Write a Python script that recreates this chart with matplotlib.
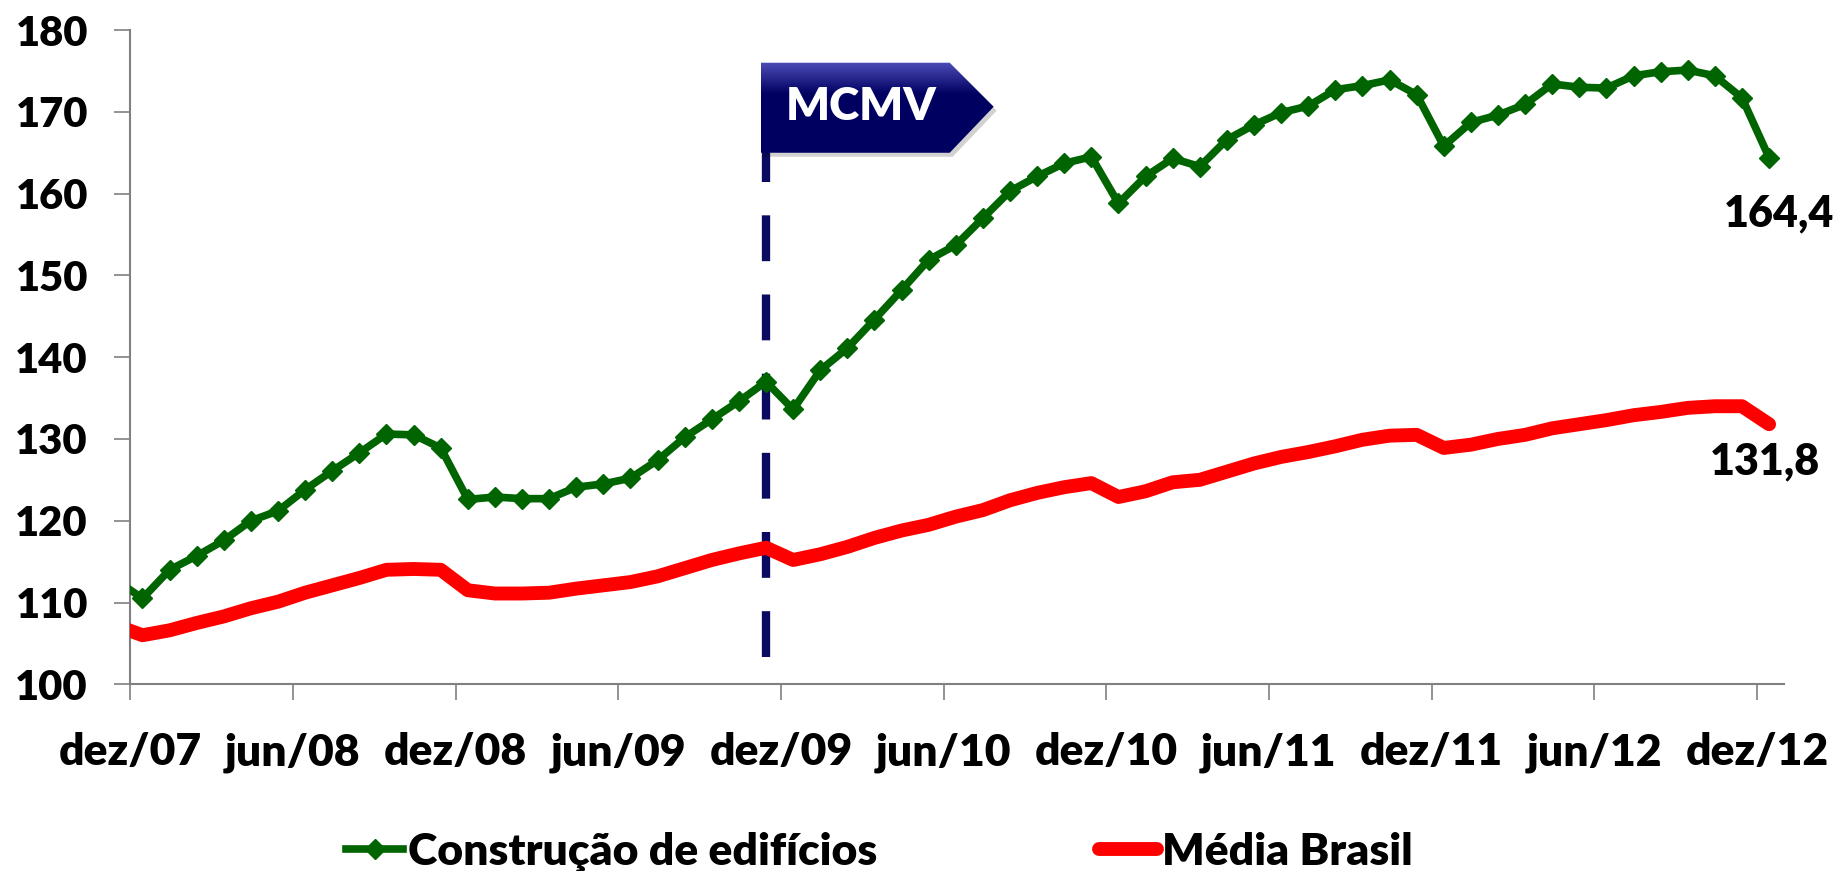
import numpy as np
import matplotlib
matplotlib.use('Agg')
import matplotlib.pyplot as plt
from matplotlib.patches import Polygon
from matplotlib.lines import Line2D
import matplotlib.transforms as mtransforms

plt.rcParams['font.family'] = ['Lato', 'DejaVu Sans']
plt.rcParams['font.weight'] = 'heavy'
FW = 'heavy'

# ---------------- data ----------------
# month index: -1 = nov/07 (clipped by the axis), 0 = dez/07 ... 60 = dez/12
months = np.arange(-1, 61)
construcao = [112.8, 110.5, 114.0, 115.7, 117.6, 120.0, 121.2, 123.8, 126.1, 128.3, 130.6, 130.5, 128.9,
              122.6, 122.9, 122.7, 122.7, 124.1, 124.5, 125.2, 127.4, 130.2, 132.4, 134.6, 137.0,
              133.6, 138.4, 141.1, 144.6, 148.2, 151.9, 153.7, 157.0, 160.3, 162.1, 163.7, 164.5,
              158.8, 162.1, 164.3, 163.3, 166.6, 168.4, 169.9, 170.7, 172.7, 173.2, 173.9, 172.1,
              165.8, 168.7, 169.6, 170.9, 173.4, 173.0, 172.9, 174.4, 174.9, 175.1, 174.4, 171.7, 164.4]
media_brasil = [107.2, 106.0, 106.6, 107.5, 108.3, 109.3, 110.1, 111.2, 112.1, 113.0, 114.0, 114.1, 114.0,
                111.5, 111.1, 111.1, 111.2, 111.7, 112.1, 112.5, 113.2, 114.2, 115.2, 116.0, 116.7,
                115.2, 115.9, 116.8, 117.9, 118.8, 119.5, 120.5, 121.3, 122.5, 123.4, 124.1, 124.6,
                122.9, 123.6, 124.7, 125.0, 126.0, 127.0, 127.8, 128.4, 129.1, 129.9, 130.4, 130.5,
                128.9, 129.3, 130.0, 130.5, 131.3, 131.8, 132.3, 132.9, 133.3, 133.8, 134.0, 134.0, 131.8]
tick_months = [0, 6, 12, 18, 24, 30, 36, 42, 48, 54, 60]
tick_labels = ['dez/07', 'jun/08', 'dez/08', 'jun/09', 'dez/09', 'jun/10',
               'dez/10', 'jun/11', 'dez/11', 'jun/12', 'dez/12']
y_ticks = [100, 110, 120, 130, 140, 150, 160, 170, 180]
mcmv_month = 23  # nov/09
label_green = '164,4'
label_red = '131,8'
series_names = ['Construção de edifícios', 'Média Brasil']

# ---------------- figure ----------------
W, H = 1843, 871
fig = plt.figure(figsize=(W / 100, H / 100), dpi=100)
ax = fig.add_axes([130.3 / W, 1 - 684.3 / H, (1784 - 130.3) / W, (684.3 - 30) / H])

x = months + 0.45
green = '#006400'
red = '#ff0000'
navy = '#0a0a60'

ax.plot(x, media_brasil, color=red, lw=10, solid_capstyle='round', solid_joinstyle='round', zorder=3)
ax.plot(x, construcao, color=green, lw=5.5, marker='D', ms=10, mec=green, mfc=green,
        solid_joinstyle='round', zorder=4)

xm = mcmv_month + 0.45
ax.plot([xm, xm], [103.3, 168], color=navy, lw=6, dashes=(5.5, 4), zorder=2)

ax.set_xlim(0, 61)
ax.set_ylim(100, 180)
ax.set_xticks(tick_months)
ax.set_xticklabels(tick_labels)
ax.set_yticks(y_ticks)
for s in ['top', 'right']:
    ax.spines[s].set_visible(False)
for s in ['left', 'bottom']:
    ax.spines[s].set_color('#808080')
    ax.spines[s].set_linewidth(1.5)
ax.tick_params(axis='both', direction='out', length=11.5, width=1.2, color='#808080')
ax.tick_params(axis='y', labelsize=30, pad=19)
ax.tick_params(axis='x', labelsize=32, pad=23)
for t in ax.get_xticklabels() + ax.get_yticklabels():
    t.set_fontweight(FW)

# end labels
ax.annotate(label_green, xy=(x[-1], construcao[-1]), xytext=(7, -40), textcoords='offset points',
            ha='center', va='center', fontsize=31, fontweight=FW, annotation_clip=False)
ax.annotate(label_red, xy=(x[-1], media_brasil[-1]), xytext=(-3, -27), textcoords='offset points',
            ha='center', va='center', fontsize=31, fontweight=FW, annotation_clip=False)

# MCMV arrow box
def px2d(px, py):
    return ((px - 130.3) / 27.12, 100 + (684.3 - py) / 8.175)

pts = [px2d(761, 63), px2d(950, 63), px2d(994, 107), px2d(950, 153), px2d(761, 153)]
shadow_off = mtransforms.offset_copy(ax.transData, fig=fig, x=3, y=-4, units='dots')
shadow = Polygon(pts, closed=True, facecolor='#000000', alpha=0.18, edgecolor='none',
                 transform=shadow_off, zorder=5, clip_on=False)
ax.add_patch(shadow)
box = Polygon(pts, closed=True, facecolor='none', edgecolor='none', zorder=6, clip_on=False)
ax.add_patch(box)
grad = np.linspace(0, 1, 256).reshape(-1, 1)
top_c = np.array([0.30, 0.30, 0.72])
bot_c = np.array([0.0, 0.0, 0.38])
w = np.clip(grad / 0.35, 0, 1)
img = (top_c * (1 - w) + bot_c * w).reshape(256, 1, 3)
x0, y0 = px2d(761, 153)
x1, y1 = px2d(994, 63)
im = ax.imshow(img, extent=(x0, x1, y0, y1), origin='upper', aspect='auto', zorder=6)
im.set_clip_path(box)
ax.text(*px2d(861, 107), 'MCMV', color='white', fontsize=33, fontweight=FW,
        ha='center', va='center', zorder=7)
ax.set_xlim(0, 61)
ax.set_ylim(100, 180)

# legend
handles = [Line2D([], [], color=green, lw=5.5, marker='D', ms=10),
           Line2D([], [], color=red, lw=10, solid_capstyle='round')]
leg = fig.legend(handles, series_names, loc='center', bbox_to_anchor=(879 / W, 1 - 852 / H),
                 ncol=2, frameon=False, handlelength=1.3, handletextpad=0.1,
                 columnspacing=5.0, prop={'weight': FW, 'size': 32})

fig.savefig('out.png', dpi=100)
